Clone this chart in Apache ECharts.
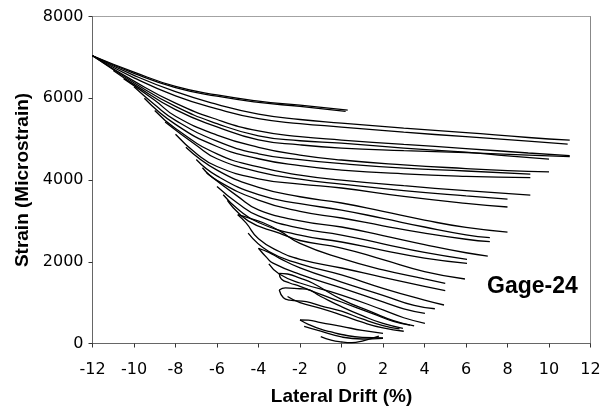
<!DOCTYPE html>
<html>
<head>
<meta charset="utf-8">
<script src="https://cdn.jsdelivr.net/npm/echarts@6/dist/echarts.min.js"></script>
<style>
  html, body { margin: 0; padding: 0; background: #fff; }
  #chart { width: 613px; height: 416px; }
</style>
</head>
<body>
<div id="chart"></div>
<script>
// Strain history of gage 24: each array is one loading branch, [drift %, microstrain]
const branchA1 = [[-12,7040],[-10,6640],[-8,6290],[-6,6080],[-4,5930],[-2,5830],[0.3,5710]];
const branchA2 = [[-12,7040],[-10,6610],[-8,6260],[-6,6050],[-4,5900],[-2,5800],[0.2,5680]];
const branchB1 = [[-12,7040],[-10,6560],[-8,6160],[-6,5850],[-4,5610],[-2,5480],[0,5393],[3,5270],[6,5160],[9,5040],[11,4977]];
const branchB2 = [[-12,7040],[-10,6500],[-8,6060],[-6,5740],[-4,5500],[-2,5380],[0,5296],[3,5170],[6,5060],[9,4950],[10.9,4880]];
const branchB3 = [[-12,7040],[-10,6420],[-8,5880],[-6,5480],[-4,5200],[-2,5060],[0,4978],[3,4870],[6,4770],[9,4660],[11,4594]];
const branchB4 = [[-12,7040],[-10,6380],[-8,5800],[-6,5380],[-4,5080],[-2,4960],[0,4900],[3,4780],[6,4680],[8,4590],[10,4510]];
const branchB5 = [[-11,6680],[-10,6340],[-8,5720],[-6,5300],[-4,4980],[-2,4860],[0,4782],[3,4720],[6,4670],[9,4610],[11,4570]];
const branchC1 = [[-10.5,6480],[-9,5950],[-8,5560],[-6,5100],[-4,4800],[-2,4610],[0,4489],[3,4370],[6,4280],[8,4230],[10,4200]];
const branchC2 = [[-10,6280],[-9,5840],[-8,5460],[-6,4950],[-4,4640],[-2,4500],[0,4400],[3,4290],[6,4220],[9.1,4146]];
const branchC3 = [[-9.5,6000],[-8,5360],[-6,4820],[-4,4520],[-2,4350],[0,4244],[3,4150],[6,4090],[9.1,4056]];
const branchD1 = [[-9,5700],[-8,5260],[-6,4640],[-4,4320],[-2,4120],[0,3999],[3,3860],[6,3740],[9.1,3632]];
const branchD2 = [[-8.5,5420],[-7,4850],[-6,4520],[-4,4200],[-2,4020],[0,3900],[3,3740],[6,3610],[8,3534]];
const branchD3 = [[-8,5120],[-7,4650],[-6,4330],[-4,4030],[-2,3900],[0,3804],[3,3600],[6,3430],[8,3340]];
const branchE1 = [[-7.5,4800],[-6,4240],[-4,3820],[-2,3590],[0,3437],[2,3230],[4,3020],[6,2840],[8,2727]];
const branchE2 = [[-7,4500],[-6,4100],[-4,3640],[-2,3420],[0,3265],[2,3060],[4,2850],[6,2660],[7.15,2588]];
const branchE3 = [[-6.7,4300],[-6,3990],[-4,3510],[-2,3230],[0,3070],[2,2880],[4,2700],[6,2550],[7.15,2490]];
const branchF1 = [[-6.5,4170],[-5,3600],[-4,3270],[-2,3000],[0,2850],[2,2640],[4,2420],[6,2220],[7.05,2140]];
const branchF2 = [[-6,3840],[-5,3430],[-4,3120],[-2,2820],[0,2654],[2,2440],[4,2230],[6.05,2060]];
const branchF3 = [[-5.7,3640],[-5,3290],[-4,2960],[-2,2650],[0,2483],[2,2280],[4,2090],[6.05,1961]];
const branchG1 = [[-5.5,3500],[-4.5,3000],[-3,2700],[-2,2520],[0,2336],[2,2050],[4,1760],[5.95,1578]];
const branchG2 = [[-5,3150],[-4.4,3060],[-3.8,2960],[-3,2760],[-2,2450],[0,2080],[2,1800],[4,1580],[5,1472]];
const branchG3 = [[-5,3150],[-4.6,2950],[-4,2560],[-3,2250],[-2,2060],[0,1847],[2,1620],[4,1400],[5,1292]];
const branchH1 = [[-4.5,2700],[-3.5,2250],[-2,1950],[0,1676],[2,1350],[4,1060],[4.94,942]];
const branchH2 = [[-4,2330],[-3.5,2230],[-3,2090],[-2,1850],[0,1504],[2,1180],[3.5,930],[4.5,850]];
const branchH3 = [[-4,2330],[-3.6,2100],[-3.3,1966],[-2,1690],[0,1358],[2,1020],[3,850],[4.02,739]];
const branchI1 = [[-3.5,1950],[-3,1700],[-2,1480],[0,1186],[2,820],[3,630],[4.02,494]];
const branchI2 = [[-3,1717],[-2.6,1700],[-2,1600],[-1.4,1480],[0,1080],[1.5,760],[2.5,560],[3.5,430]];
const branchI2b = [[-3,1717],[-2.9,1580],[-2.5,1480],[-2,1400],[-1,1200],[0,1015],[1.5,730],[2.5,540],[3.3,450]];
const branchI3 = [[-3,1309],[-2.7,1360],[-2,1340],[-1.7,1330],[-1,1150],[0,900],[1,680],[2,490],[2.96,372]];
const branchI3b = [[-3,1309],[-2.8,1120],[-2.5,1060],[-1.7,1022],[-1,920],[0,790],[1,600],[2,440],[2.8,360]];
const branchJ0 = [[-2.6,1150],[-2,1000],[-1,860],[0,697],[1,520],[2,380],[3,300]];
const branchJ1 = [[-2,575],[-1.6,570],[-1,510],[0,420],[1,320],[2,249]];
const branchJ1b = [[-2,575],[-1.6,470],[-1,350],[-0.55,290],[0,220],[1,150],[2,140]];
const branchJ2 = [[-1.8,420],[-1,300],[0,160],[1,110],[2,127]];
const branchJ3 = [[-1,166],[-0.5,80],[0,37],[0.5,20],[1,60],[1.8,180]];

const branches = [
  branchA1, branchA2, branchB1, branchB2, branchB3, branchB4, branchB5,
  branchC1, branchC2, branchC3, branchD1, branchD2, branchD3,
  branchE1, branchE2, branchE3, branchF1, branchF2, branchF3,
  branchG1, branchG2, branchG3, branchH1, branchH2, branchH3,
  branchI1, branchI2, branchI2b, branchI3, branchI3b,
  branchJ0, branchJ1, branchJ1b, branchJ2, branchJ3
];

const driftRange = [-12, 12, 2];
const strainRange = [0, 8000, 2000];
const gageLabel = 'Gage-24';

const chart = echarts.init(document.getElementById('chart'), null, { renderer: 'canvas' });

const tickFont = { fontFamily: 'DejaVu Sans', fontSize: 16, color: '#000' };
const titleFont = { fontFamily: 'Liberation Sans', fontSize: 19, fontWeight: 'bold', color: '#000' };

chart.setOption({
  animation: false,
  backgroundColor: '#fff',
  grid: { left: 92.5, right: 22.5, top: 16.5, bottom: 72.5, containLabel: false },
  xAxis: [{
    type: 'value', min: driftRange[0], max: driftRange[1], interval: driftRange[2],
    name: 'Lateral Drift (%)', nameLocation: 'middle', nameGap: 44,
    nameTextStyle: titleFont,
    axisLine: { show: true, onZero: false, lineStyle: { color: '#666', width: 1 } },
    axisTick: { show: true, inside: false, length: 4, lineStyle: { color: '#333' } },
    axisLabel: Object.assign({ margin: 18 }, tickFont),
    splitLine: { show: false }
  }, {
    type: 'value', position: 'top', min: driftRange[0], max: driftRange[1],
    axisLine: { show: true, onZero: false, lineStyle: { color: '#999', type: 'dotted' } },
    axisTick: { show: false }, axisLabel: { show: false }, splitLine: { show: false }
  }],
  yAxis: [{
    type: 'value', min: strainRange[0], max: strainRange[1], interval: strainRange[2],
    name: 'Strain (Microstrain)', nameLocation: 'middle', nameGap: 60,
    nameTextStyle: titleFont,
    axisLine: { show: true, onZero: false, lineStyle: { color: '#666', width: 1 } },
    axisTick: { show: true, inside: false, length: 4, lineStyle: { color: '#333' } },
    axisLabel: Object.assign({ margin: 9, formatter: function (v) { return String(v); } }, tickFont),
    splitLine: { show: false }
  }, {
    type: 'value', position: 'right', min: strainRange[0], max: strainRange[1],
    axisLine: { show: true, onZero: false, lineStyle: { color: '#888' } },
    axisTick: { show: false }, axisLabel: { show: false }, splitLine: { show: false }
  }],
  graphic: [{
    type: 'text', left: 487, top: 275,
    style: { text: gageLabel, fontFamily: 'Liberation Sans', fontSize: 23, fontWeight: 'bold', fill: '#000' }
  }],
  series: branches.map(function (pts) {
    return {
      type: 'line', data: pts, xAxisIndex: 0, yAxisIndex: 0,
      showSymbol: false, symbol: 'none',
      smooth: 0.5,
      lineStyle: { color: '#000', width: 1.3 },
      silent: true
    };
  })
});
</script>
</body>
</html>
